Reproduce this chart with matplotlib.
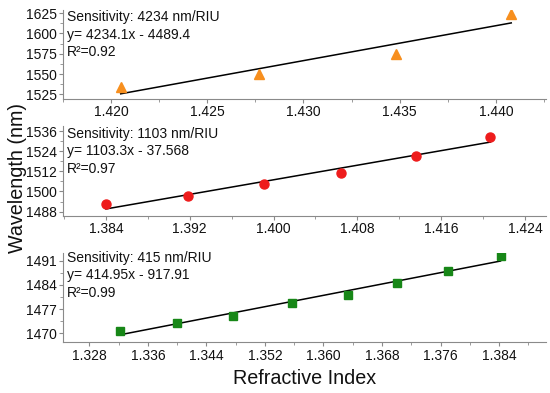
import numpy as np
import matplotlib
matplotlib.use("Agg")
import matplotlib.pyplot as plt
from matplotlib.ticker import MultipleLocator, FormatStrFormatter

plt.rcParams['font.family'] = ['Liberation Sans', 'DejaVu Sans']

# top panel (triangles)
n_top = [1.4205, 1.4277, 1.4348, 1.4408]
wl_top = [1533.5, 1550.0, 1575.0, 1624.0]
txt_top = ["Sensitivity: 4234 nm/RIU", "y= 4234.1x - 4489.4", "R²=0.92"]

# middle panel (circles)
n_mid = [1.3840, 1.3918, 1.3991, 1.4064, 1.4136, 1.4207]
wl_mid = [1492.4, 1497.2, 1504.5, 1511.1, 1520.9, 1532.6]
txt_mid = ["Sensitivity: 1103 nm/RIU", "y= 1103.3x - 37.568", "R²=0.97"]

# bottom panel (squares)
n_bot = [1.3322, 1.3400, 1.3476, 1.3557, 1.3634, 1.3700, 1.3770, 1.3842]
wl_bot = [1470.8, 1473.0, 1475.0, 1478.8, 1481.2, 1484.6, 1487.9, 1492.3]
txt_bot = ["Sensitivity: 415 nm/RIU", "y= 414.95x - 917.91", "R²=0.99"]

spine_col = '#8a8a8a'


def panel(ax, x, y, marker, color, ms, xlim, ylim, xstep, ystep, lines, ty):
    # linear fit drawn between first and last point
    coef = np.polyfit(x, y, 1)
    xs = np.array([x[0], x[-1]])
    ax.plot(xs, np.polyval(coef, xs), color='black', lw=1.1, zorder=2)
    ax.plot(x, y, linestyle='none', marker=marker, color=color, ms=ms,
            mec=color, zorder=3)
    ax.set_xlim(xlim)
    ax.set_ylim(ylim)
    ax.xaxis.set_major_locator(MultipleLocator(xstep))
    ax.xaxis.set_minor_locator(MultipleLocator(xstep / 2))
    ax.yaxis.set_major_locator(MultipleLocator(ystep))
    ax.yaxis.set_minor_locator(MultipleLocator(ystep / 2))
    ax.xaxis.set_major_formatter(FormatStrFormatter('%.3f'))
    ax.yaxis.set_major_formatter(FormatStrFormatter('%d'))
    for s in ['top', 'right']:
        ax.spines[s].set_visible(False)
    for s in ['left', 'bottom']:
        ax.spines[s].set_color(spine_col)
        ax.spines[s].set_linewidth(0.8)
    ax.tick_params(which='major', direction='out', length=3, width=0.8,
                   color=spine_col, labelsize=10, labelcolor='#111111', pad=1.5)
    ax.tick_params(which='minor', direction='out', length=2, width=0.6,
                   color=spine_col)
    ax.text(0.008, ty, "\n".join(lines), transform=ax.transAxes, va='top',
            ha='left', fontsize=10, color='#111111', linespacing=1.32)


fig = plt.figure(figsize=(5.5, 3.93), dpi=100)
ax1 = fig.add_axes([0.1145, 0.7489, 0.878, 0.2257])
ax2 = fig.add_axes([0.1145, 0.4504, 0.878, 0.2298])
ax3 = fig.add_axes([0.1145, 0.1290, 0.878, 0.2265])

panel(ax1, n_top, wl_top, '^', '#f78f1e', 7.4, (1.4175, 1.4426),
      (1519.6, 1629), 0.005, 25, txt_top, 1.0)
panel(ax2, n_mid, wl_mid, 'o', '#ee1c1c', 6.5, (1.3799, 1.4260),
      (1485.4, 1539.2), 0.008, 12, txt_mid, 0.99)
panel(ax3, n_bot, wl_bot, 's', '#178717', 5.6, (1.3244, 1.3904),
      (1467.4, 1493.1), 0.008, 7, txt_bot, 1.03)

fig.text(0.031, 0.548, "Wavelength (nm)", rotation=90, ha='center',
         va='center', fontsize=14.2, color='#111111')
fig.text(0.553, 0.038, "Refractive Index", ha='center', va='center',
         fontsize=14.2, color='#111111')

fig.savefig("out.png", dpi=100, facecolor='white')
